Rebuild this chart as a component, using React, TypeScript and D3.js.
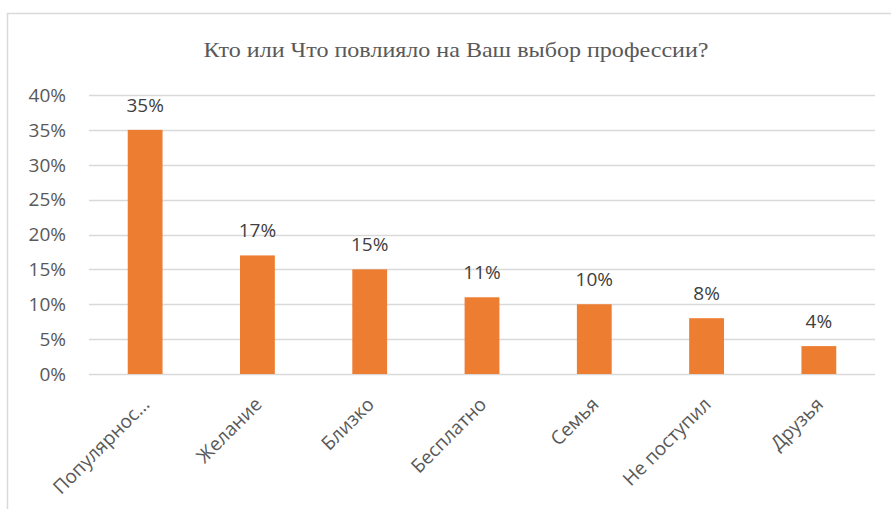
import { useEffect, useRef } from "react";
import * as d3 from "d3";

const categories = ["Популярнос…", "Желание", "Близко", "Бесплатно", "Семья", "Не поступил", "Друзья"];
const values = [0.35, 0.17, 0.15, 0.11, 0.10, 0.08, 0.04];
const yTicks = [0, 0.05, 0.1, 0.15, 0.2, 0.25, 0.3, 0.35, 0.4];
const title = "Кто или Что повлияло на Ваш выбор профессии?";

const W = 891;
const H = 509;

export default function App() {
  const svgRef = useRef<SVGSVGElement>(null);

  useEffect(() => {
    if (!svgRef.current) return;
    const svg = d3.select(svgRef.current);
    svg.selectAll("*").remove();

    const left = 89, right = 875, top = 95, bottom = 374;
    const font = "'Open Sans', sans-serif";
    const textColor = "#595959";
    const pct = d3.format(".0%");

    // chart frame (right and bottom edges are cut off in the source)
    svg.append("rect")
      .attr("x", 7.5).attr("y", 13.5)
      .attr("width", 1000).attr("height", 1000)
      .attr("fill", "#fff")
      .attr("stroke", "#d9d9d9")
      .attr("stroke-width", 1.5);

    svg.append("text")
      .attr("x", 456).attr("y", 57)
      .attr("text-anchor", "middle")
      .attr("font-family", "'Liberation Serif', 'Times New Roman', serif")
      .attr("font-size", "21px")
      .attr("textLength", 505)
      .attr("lengthAdjust", "spacingAndGlyphs")
      .attr("fill", textColor)
      .text(title);

    const x = d3.scaleBand<string>()
      .domain(categories)
      .range([left, right])
      .paddingInner(0.69)
      .paddingOuter(0.345);

    const y = d3.scaleLinear().domain([0, 0.4]).range([bottom, top]);

    // gridlines
    svg.append("g")
      .selectAll("line")
      .data(yTicks)
      .join("line")
      .attr("x1", left).attr("x2", right)
      .attr("y1", d => Math.round(y(d)) + 0.5)
      .attr("y2", d => Math.round(y(d)) + 0.5)
      .attr("stroke", "#d9d9d9")
      .attr("stroke-width", 1.5);

    // y labels
    svg.append("g")
      .selectAll("text")
      .data(yTicks)
      .join("text")
      .attr("x", 66)
      .attr("y", d => y(d))
      .attr("dy", "0.36em")
      .attr("text-anchor", "end")
      .attr("font-family", font)
      .attr("font-size", "19px")
      .attr("fill", textColor)
      .text(d => pct(d));

    // bars
    svg.append("g")
      .selectAll("rect")
      .data(values)
      .join("rect")
      .attr("x", (_, i) => x(categories[i])!)
      .attr("y", d => y(d))
      .attr("width", x.bandwidth())
      .attr("height", d => bottom - y(d))
      .attr("fill", "#ed7d31");

    // value labels
    svg.append("g")
      .selectAll("text")
      .data(values)
      .join("text")
      .attr("x", (_, i) => x(categories[i])! + x.bandwidth() / 2)
      .attr("y", d => y(d) - 18)
      .attr("text-anchor", "middle")
      .attr("font-family", font)
      .attr("font-size", "19px")
      .attr("fill", "#404040")
      .text(d => pct(d));

    // category labels, rotated -45°
    svg.append("g")
      .selectAll("text")
      .data(categories)
      .join("text")
      .attr("transform", d => `translate(${x(d)! + x.bandwidth() / 2 - 4},${bottom + 22}) rotate(-45)`)
      .attr("dy", "0.71em")
      .attr("text-anchor", "end")
      .attr("font-family", font)
      .attr("font-size", "19px")
      .attr("fill", textColor)
      .text(d => d);
  }, []);

  return (
    <svg
      ref={svgRef}
      width={W}
      height={H}
      style={{ display: "block", position: "absolute", left: 0, top: 0 }}
    />
  );
}
